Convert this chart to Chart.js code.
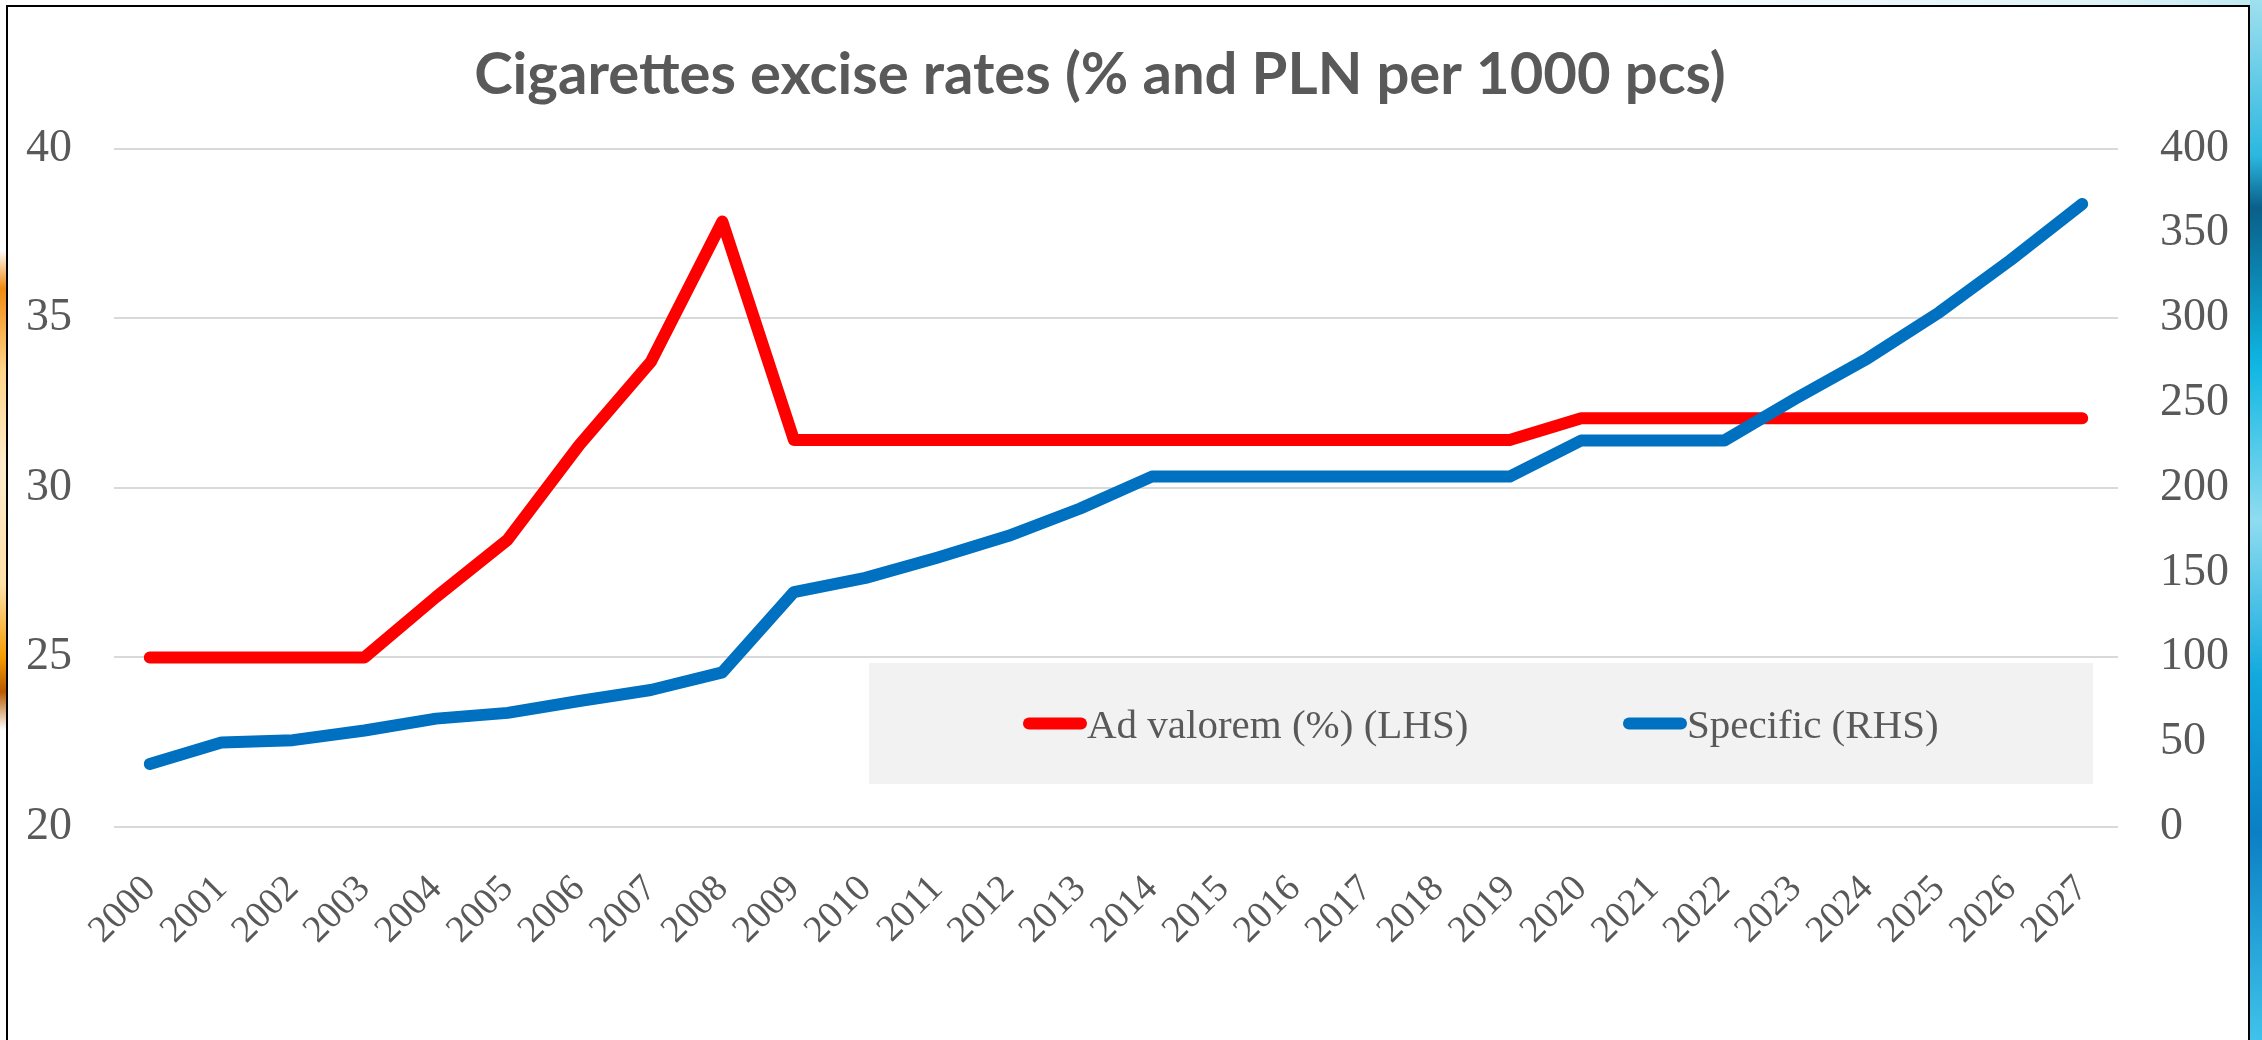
<!DOCTYPE html>
<html>
<head>
<meta charset="utf-8">
<script src="https://cdn.jsdelivr.net/npm/chart.js@4.4.0/dist/chart.umd.min.js"></script>
<style>
  html, body { margin: 0; padding: 0; }
  body {
    width: 2262px; height: 1040px; position: relative; overflow: hidden;
    background: linear-gradient(to right, #ffffff 0, #ffffff 1500px, #dff3f7 2100px, #bfe9f2 2262px);
  }
  #frame {
    position: absolute; left: 6px; top: 5px; width: 2240px; height: 1100px;
    border: 2px solid #000; background: #fff;
  }
  #edgeRight {
    position: absolute; left: 2250px; top: 0; width: 12px; height: 1040px;
    background: linear-gradient(to bottom, #9fe0ee 0, #2bb7e0 15%, #0a5f8a 20%, #0fb6e3 35%, #8fdcf0 50%, #12a9de 65%, #0b7fc4 80%, #3fc3ea 100%);
  }
  #edgeLeft {
    position: absolute; left: 0; top: 250px; width: 6px; height: 480px;
    background: linear-gradient(to bottom, #ffffff 0, #f08a10 8%, #ffd58a 25%, #ffeccc 45%, #ffe0a8 70%, #f59b00 85%, #b85a00 92%, #ffffff 100%);
  }
  #chart { position: absolute; left: 0; top: 0; }
</style>
</head>
<body>
<div id="edgeLeft"></div>
<div id="edgeRight"></div>
<div id="frame"></div>
<canvas id="chart" width="2262" height="1040"></canvas>
<script>
// years on the category axis
const years = ['2000', '2001', '2002', '2003', '2004', '2005', '2006', '2007', '2008', '2009',
               '2010', '2011', '2012', '2013', '2014', '2015', '2016', '2017', '2018', '2019',
               '2020', '2021', '2022', '2023', '2024', '2025', '2026', '2027'];

// ad valorem rate, % (left axis)
const adValorem = [25, 25, 25, 25, 26.78, 28.47, 31.26, 33.71, 37.85,
                   31.41, 31.41, 31.41, 31.41, 31.41, 31.41, 31.41, 31.41, 31.41, 31.41, 31.41,
                   32.05, 32.05, 32.05, 32.05, 32.05, 32.05, 32.05, 32.05];

// specific rate, PLN per 1000 pcs (right axis)
const specific = [37.2, 49.8, 51.2, 56.9, 63.9, 67.3, 74.3, 80.8, 91.2,
                  138.5, 146.9, 158.8, 171.7, 187.8, 206.6,
                  206.6, 206.6, 206.6, 206.6, 206.6,
                  227.9, 227.9, 227.9,
                  252.7, 276.3, 303.4, 334.3, 367.3];

const leftTicks = [20, 25, 30, 35, 40];
const rightTicks = [0, 50, 100, 150, 200, 250, 300, 350, 400];

const textGrey = '#595959';
const serif = "'Liberation Serif', 'Times New Roman', serif";

// grey legend box sitting inside the plot
const legendBox = {
  id: 'legendBox',
  beforeDatasetsDraw(chart, args, opts) {
    const ctx = chart.ctx;
    ctx.save();
    ctx.fillStyle = opts.background;
    ctx.fillRect(opts.x, opts.y, opts.w, opts.h);
    const mid = opts.y + opts.h / 2;
    ctx.font = opts.font;
    ctx.textBaseline = 'alphabetic';
    ctx.textAlign = 'left';
    opts.items.forEach(function (item) {
      const ds = chart.data.datasets[item.index];
      ctx.strokeStyle = ds.borderColor;
      ctx.lineWidth = ds.borderWidth;
      ctx.lineCap = 'round';
      ctx.beginPath();
      ctx.moveTo(item.x + 6, mid);
      ctx.lineTo(item.x + opts.sample - 6, mid);
      ctx.stroke();
      ctx.fillStyle = textGrey;
      ctx.fillText(ds.label, item.x + opts.sample, mid + 14);
    });
    ctx.restore();
  }
};

// the title in the original is centred a bit left of the canvas middle
const titleCentre = {
  id: 'titleCentre',
  afterLayout(chart, args, opts) {
    const t = chart.titleBlock;
    if (t) {
      t.left = 0;
      t.right = opts.centre * 2;
    }
  }
};

new Chart(document.getElementById('chart'), {
  type: 'line',
  data: {
    labels: years,
    datasets: [{
      label: 'Ad valorem (%) (LHS)',
      data: adValorem,
      yAxisID: 'y',
      borderColor: '#FF0000',
      backgroundColor: '#FF0000',
      borderWidth: 12,
      order: 1
    }, {
      label: 'Specific (RHS)',
      data: specific,
      yAxisID: 'y1',
      borderColor: '#0070C0',
      backgroundColor: '#0070C0',
      borderWidth: 12,
      order: 0
    }]
  },
  options: {
    responsive: false,
    animation: false,
    devicePixelRatio: 1,
    layout: { padding: { left: 0, right: 0, top: 0, bottom: 63 } },
    elements: {
      line: { tension: 0, borderCapStyle: 'round', borderJoinStyle: 'round' },
      point: { radius: 0, hoverRadius: 0 }
    },
    plugins: {
      legend: { display: false },
      tooltip: { enabled: false },
      title: {
        display: true,
        text: 'Cigarettes excise rates (% and PLN per 1000 pcs)',
        color: textGrey,
        font: { family: "Lato, 'Open Sans', sans-serif", size: 58, weight: 'bold' },
        padding: { top: 40, bottom: 39 }
      },
      titleCentre: { centre: 1100 },
      legendBox: {
        x: 869, y: 663, w: 1224, h: 121,
        background: '#F2F2F2',
        sample: 64,
        font: '41px ' + serif,
        items: [{ index: 0, x: 1023 }, { index: 1, x: 1623 }]
      }
    },
    scales: {
      x: {
        offset: true,
        grid: { display: false },
        border: { display: false },
        ticks: {
          color: textGrey,
          font: { family: serif, size: 38 },
          minRotation: 45,
          maxRotation: 45,
          autoSkip: false,
          padding: 32
        },
        afterFit: function (scale) { scale.height = 150; }
      },
      y: {
        position: 'left',
        min: leftTicks[0],
        max: leftTicks[leftTicks.length - 1],
        ticks: {
          stepSize: leftTicks[1] - leftTicks[0],
          color: textGrey,
          font: { family: serif, size: 46 },
          padding: 42
        },
        grid: { color: '#D9D9D9', lineWidth: 2, drawTicks: false },
        border: { display: false },
        afterFit: function (scale) { scale.width = 114; }
      },
      y1: {
        position: 'right',
        min: rightTicks[0],
        max: rightTicks[rightTicks.length - 1],
        ticks: {
          stepSize: rightTicks[1] - rightTicks[0],
          color: textGrey,
          font: { family: serif, size: 46 },
          padding: 42
        },
        grid: { drawOnChartArea: false, drawTicks: false },
        border: { display: false },
        afterFit: function (scale) { scale.width = 144; }
      }
    }
  },
  plugins: [legendBox, titleCentre]
});
</script>
</body>
</html>
